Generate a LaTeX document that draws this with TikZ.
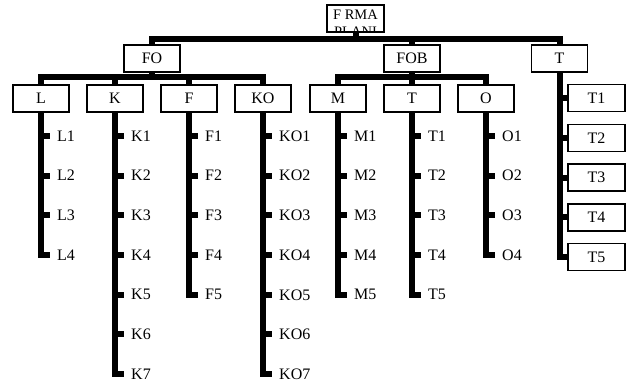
\documentclass[tikz,border=0pt]{standalone}
\usepackage{fontspec}
\setmainfont{Liberation Serif}
\begin{document}
\begin{tikzpicture}[x=1pt,y=-1pt,
  box/.style={draw,line width=1.3pt,minimum width=56pt,minimum height=27pt,inner sep=0pt,font=\fontsize{16}{17}\selectfont},
  leaf/.style={anchor=west,inner sep=0pt,font=\fontsize{16}{17}\selectfont},
  bar/.style={line width=6pt,line join=miter},
]
\useasboundingbox (0,0) rectangle (627,382);
% root
\node[box,minimum width=57pt] (top) at (355.5,18.5) {};
\begin{scope}
  \clip (top.south west) rectangle (top.north east);
  \node[inner sep=0pt,align=center,anchor=north,font=\fontsize{14.5}{17}\selectfont] (toptext) at (355.5,10) {F RMA\\PLANI};
\end{scope}
\coordinate (b0) at (0,39);
\coordinate (b1) at (0,77.5);
% level 1
\node[box] (FO) at (152,58.5) {FO};
\node[box] (FOB) at (412,58.5) {FOB};
\node[box] (Tr) at (559.5,58.5) {T};
\draw[bar,line cap=rect] (FO.north |- b0) -- (Tr.north |- b0);
\draw[bar] (top.south) -- (top.south |- b0);
\draw[bar] (FO.north |- b0) -- (FO.north);
\draw[bar] (FOB.north |- b0) -- (FOB.north);
\draw[bar] (Tr.north |- b0) -- (Tr.north);
% level 2 with leaves
\foreach \p/\t/\x/\n in {L/L/41/4, K/K/115/7, F/F/189/5, KO/KO/263/7, M/M/338/5, Tb/T/412/5, O/O/486/4}{
  \node[box] (\p) at (\x,98.5) {\t};
  \draw[bar] (\p.north |- b1) -- (\p.north);
  \foreach \i in {1,...,\n}{
    \node[leaf] (\p\i) at (\x+16,{136+39.7*(\i-1)}) {\t\i};
    \draw[bar] (\p.south |- \p\i.west) -- ([xshift=-7pt]\p\i.west);
  }
  \draw[bar] (\p.south) |- ([xshift=-7pt]\p\n.west);
}
\draw[bar,line cap=rect] (L.north |- b1) -- (KO.north |- b1);
\draw[bar] (FO.south) -- (FO.south |- b1);
\draw[bar,line cap=rect] (M.north |- b1) -- (O.north |- b1);
\draw[bar] (FOB.south) -- (FOB.south |- b1);
% right column
\foreach \i in {1,...,5}{
  \node[box,minimum width=57pt] (Tr\i) at (596.5,{98+39.8*(\i-1)}) {T\i};
  \draw[bar] (Tr.south |- Tr\i.west) -- (Tr\i.west);
}
\draw[bar] (Tr.south) |- (Tr5.west);
\end{tikzpicture}
\end{document}
